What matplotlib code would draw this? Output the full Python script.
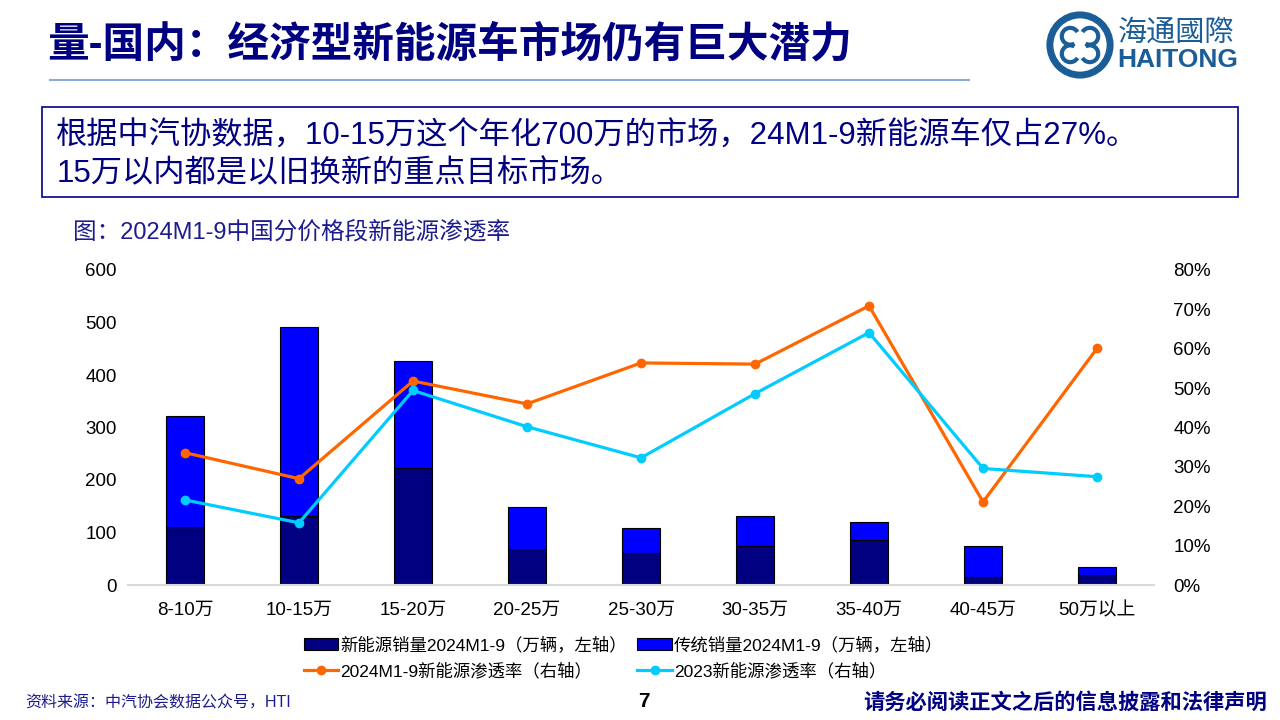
import numpy as np
import matplotlib.pyplot as plt
from matplotlib.patches import Rectangle, Circle, Arc
from matplotlib.lines import Line2D

plt.rcParams['font.family'] = ['Liberation Sans', 'Noto Sans CJK SC', 'DejaVu Sans']

categories = ['8-10万', '10-15万', '15-20万', '20-25万', '25-30万', '30-35万', '35-40万', '40-45万', '50万以上']
nev_sales = [110, 131, 223, 69, 61, 74, 86, 15, 19]
total_sales = [322, 491, 427, 149, 109, 131, 120, 74, 34]
ice_sales = [t - n for t, n in zip(total_sales, nev_sales)]
pen_2024 = [33.6, 27.0, 51.8, 46.0, 56.4, 56.1, 70.9, 21.1, 60.1]
pen_2023 = [21.6, 15.8, 49.4, 40.2, 32.3, 48.6, 64.1, 29.6, 27.5]

navy = '#000080'
blue = '#0000ff'
orange = '#ff6600'
cyan = '#00ccff'
text_blue = '#1c1c8c'
logo_c = '#1b5d97'

fig = plt.figure(figsize=(12.8, 7.2), dpi=100)

# header
fig.text(0.037, 0.938, '量-国内：经济型新能源车市场仍有巨大潜力', fontsize=30, fontweight='bold',
         color=navy, va='center', ha='left')
fig.add_artist(Line2D([0.039, 0.757], [0.889, 0.889], color='#8eaadb', lw=1.5))

# logo
lax = fig.add_axes([1045 / 1280, 1 - 80 / 720, 70 / 1280, 70 / 720])
lax.set_xlim(-1, 1)
lax.set_ylim(-1, 1)
lax.set_aspect('equal')
lax.axis('off')
lax.add_patch(Circle((0, 0), 0.86, fc='none', ec=logo_c, lw=5))
for cx, cy, t1, t2 in [(-0.28, 0.25, 30, 300), (0.28, 0.25, 240, 150), (-0.28, -0.25, 60, 330), (0.28, -0.25, 210, 120)]:
    lax.add_patch(Arc((cx, cy), 0.48, 0.48, theta1=t1, theta2=t2, color=logo_c, lw=3))
fig.text(0.873, 0.955, '海通國際', fontsize=21, color=logo_c, va='center', ha='left')
fig.text(0.873, 0.916, 'HAITONG', fontsize=19, color=logo_c, va='center', ha='left', fontweight='bold')

# summary box
fig.add_artist(Rectangle((0.033, 0.727), 0.934, 0.125, transform=fig.transFigure,
                         fc='white', ec='#00008b', lw=1.2))
fig.text(0.044, 0.81, '根据中汽协数据，10-15万这个年化700万的市场，24M1-9新能源车仅占27%。',
         fontsize=22.5, color=navy, va='center', ha='left')
fig.text(0.044, 0.758, '15万以内都是以旧换新的重点目标市场。',
         fontsize=22.5, color=navy, va='center', ha='left')

fig.text(0.057, 0.678, '图：2024M1-9中国分价格段新能源渗透率', fontsize=17, color=text_blue,
         va='center', ha='left')

# chart
ax = fig.add_axes([0.1, 0.1875, 0.8016, 0.4375])
x = np.arange(len(categories))
w = 0.33
b1 = ax.bar(x, nev_sales, w, color=navy, edgecolor='black', lw=0.8,
            label='新能源销量2024M1-9（万辆，左轴）')
b2 = ax.bar(x, ice_sales, w, bottom=nev_sales, color=blue, edgecolor='black', lw=0.8,
            label='传统销量2024M1-9（万辆，左轴）')
ax.set_xlim(-0.5, len(categories) - 0.5)
ax.set_ylim(0, 600)
ax.set_yticks(range(0, 601, 100))
ax.set_xticks(x)
ax.set_xticklabels(categories)
for s in ['top', 'right', 'left']:
    ax.spines[s].set_visible(False)
ax.spines['bottom'].set_color('#d9d9d9')
ax.spines['bottom'].set_linewidth(1.5)
ax.tick_params(length=0, labelsize=13.5, pad=8)
ax.tick_params(axis='x', pad=12)

ax2 = ax.twinx()
l1, = ax2.plot(x, pen_2024, color=orange, lw=2.3, marker='o', ms=6,
               label='2024M1-9新能源渗透率（右轴）')
l2, = ax2.plot(x, pen_2023, color=cyan, lw=2.3, marker='o', ms=6,
               label='2023新能源渗透率（右轴）')
ax2.set_ylim(0, 80)
ax2.set_yticks(range(0, 81, 10))
ax2.set_yticklabels([f'{v}%' for v in range(0, 81, 10)])
for s in ['top', 'right', 'left', 'bottom']:
    ax2.spines[s].set_visible(False)
ax2.tick_params(length=0, labelsize=13.5, pad=14)

fig.legend(handles=[b1, l1, b2, l2], loc='center', bbox_to_anchor=(0.487, 0.087), ncol=2,
           frameon=False, fontsize=12.5, handlelength=2.0, handletextpad=0.1,
           columnspacing=0.6, labelspacing=0.55)

# footer
fig.text(0.02, 0.024, '资料来源：中汽协会数据公众号，HTI', fontsize=11.5, color=text_blue,
         va='center', ha='left')
fig.text(0.503, 0.026, '7', fontsize=15, fontweight='bold', color='black', va='center', ha='center')
fig.text(0.99, 0.024, '请务必阅读正文之后的信息披露和法律声明', fontsize=15.3, fontweight='bold',
         color=navy, va='center', ha='right')

fig.savefig('out.png', dpi=100)
